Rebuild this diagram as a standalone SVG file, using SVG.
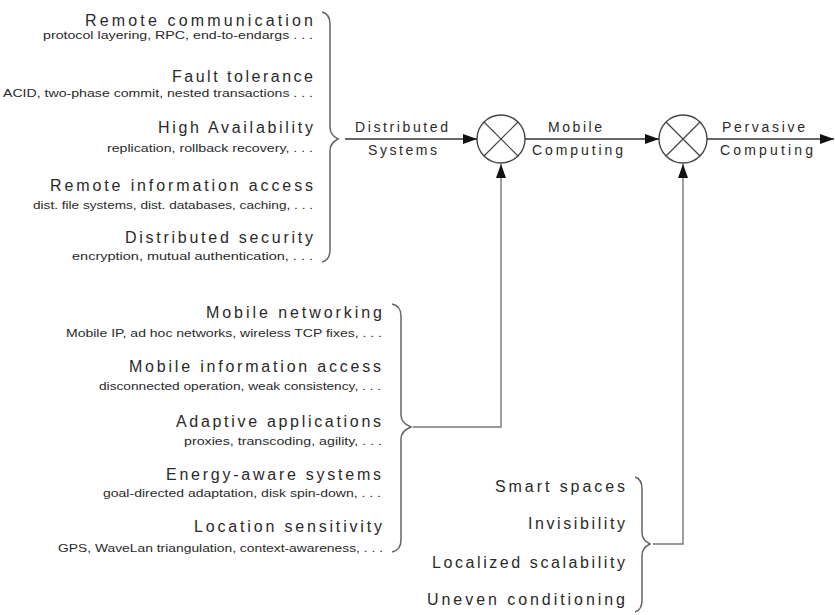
<svg xmlns="http://www.w3.org/2000/svg" width="835" height="615" viewBox="0 0 835 615">
<style>
  .t{font-family:"Liberation Sans","DejaVu Sans",sans-serif;font-size:16px;fill:#2a2a2a;text-anchor:end}
  .s{font-family:"Liberation Sans","DejaVu Sans",sans-serif;font-size:10.5px;fill:#2a2a2a;text-anchor:end}
  .a{font-family:"Liberation Sans","DejaVu Sans",sans-serif;font-size:14px;fill:#2a2a2a}
  .brace{fill:none;stroke:#666;stroke-width:1.5}
  .line{fill:none;stroke:#333;stroke-width:1.6}
  .feed{fill:none;stroke:#777;stroke-width:1.4}
  .node{fill:#fff;stroke:#444;stroke-width:1.4}
  .cross{stroke:#444;stroke-width:1.2}
</style>
<defs>
  <marker id="arr" viewBox="0 0 14 10" refX="14" refY="5" markerWidth="14" markerHeight="10" markerUnits="userSpaceOnUse" orient="auto">
    <path d="M0,0 L14,5 L0,10 Z" fill="#111"/>
  </marker>
</defs>

<rect width="835" height="615" fill="#fff"/>

<g id="distributed-topics">
  <text class="t" x="313" y="26" textLength="228" lengthAdjust="spacing">Remote communication</text>
  <text class="s" x="313" y="39" textLength="270" lengthAdjust="spacingAndGlyphs">protocol layering, RPC, end-to-endargs . . .</text>
  <text class="t" x="313" y="82" textLength="141" lengthAdjust="spacing">Fault tolerance</text>
  <text class="s" x="313" y="97" textLength="310" lengthAdjust="spacingAndGlyphs">ACID, two-phase commit, nested transactions . . .</text>
  <text class="t" x="313" y="133" textLength="155" lengthAdjust="spacing">High Availability</text>
  <text class="s" x="313" y="152" textLength="206" lengthAdjust="spacingAndGlyphs">replication, rollback recovery, . . .</text>
  <text class="t" x="313" y="191" textLength="263" lengthAdjust="spacing">Remote information access</text>
  <text class="s" x="313" y="209" textLength="280" lengthAdjust="spacingAndGlyphs">dist. file systems, dist. databases, caching, . . .</text>
  <text class="t" x="313" y="243" textLength="188" lengthAdjust="spacing">Distributed security</text>
  <text class="s" x="313" y="260" textLength="241" lengthAdjust="spacingAndGlyphs">encryption, mutual authentication, . . .</text>
  <path class="brace" d="M322,12 Q330,14 330,24 L330,127 Q330,135 338,139 Q330,143 330,151 L330,250 Q330,260 322,262"/>
</g>

<g id="mobile-topics">
  <text class="t" x="382" y="318" textLength="176" lengthAdjust="spacing">Mobile networking</text>
  <text class="s" x="382" y="337" textLength="316" lengthAdjust="spacingAndGlyphs">Mobile IP, ad hoc networks, wireless TCP fixes, . . .</text>
  <text class="t" x="381" y="372" textLength="252" lengthAdjust="spacing">Mobile information access</text>
  <text class="s" x="381" y="390" textLength="282" lengthAdjust="spacingAndGlyphs">disconnected operation, weak consistency, . . .</text>
  <text class="t" x="381" y="427" textLength="205" lengthAdjust="spacing">Adaptive applications</text>
  <text class="s" x="382" y="445" textLength="198" lengthAdjust="spacingAndGlyphs">proxies, transcoding, agility, . . .</text>
  <text class="t" x="381" y="480" textLength="215" lengthAdjust="spacing">Energy-aware systems</text>
  <text class="s" x="381" y="497" textLength="278" lengthAdjust="spacingAndGlyphs">goal-directed adaptation, disk spin-down, . . .</text>
  <text class="t" x="382" y="532" textLength="188" lengthAdjust="spacing">Location sensitivity</text>
  <text class="s" x="383" y="552" textLength="325" lengthAdjust="spacingAndGlyphs">GPS, WaveLan triangulation, context-awareness, . . .</text>
  <path class="brace" d="M392,304 Q401,306 401,316 L401,415 Q401,423 411,427 Q401,431 401,439 L401,540 Q401,550 392,552"/>
</g>

<g id="pervasive-topics">
  <text class="t" x="625" y="492" textLength="130" lengthAdjust="spacing">Smart spaces</text>
  <text class="t" x="625" y="529" textLength="97" lengthAdjust="spacing">Invisibility</text>
  <text class="t" x="625" y="568" textLength="193" lengthAdjust="spacing">Localized scalability</text>
  <text class="t" x="625" y="605" textLength="198" lengthAdjust="spacing">Uneven conditioning</text>
  <path class="brace" d="M635,477 Q642,479 642,489 L642,533 Q642,540 650,544 Q642,548 642,555 L642,600 Q642,610 635,612"/>
</g>

<g id="combiner-1">
  <circle class="node" cx="501" cy="139" r="24"/>
  <line class="cross" x1="484" y1="122" x2="518" y2="156"/>
  <line class="cross" x1="518" y1="122" x2="484" y2="156"/>
</g>

<g id="combiner-2">
  <circle class="node" cx="683" cy="139" r="24"/>
  <line class="cross" x1="666" y1="122" x2="700" y2="156"/>
  <line class="cross" x1="700" y1="122" x2="666" y2="156"/>
</g>

<g id="connectors">
  <line class="line" x1="345" y1="139" x2="477" y2="139" marker-end="url(#arr)"/>
  <line class="line" x1="525" y1="139" x2="659" y2="139" marker-end="url(#arr)"/>
  <line class="line" x1="707" y1="139" x2="834" y2="139" marker-end="url(#arr)"/>
  <polyline class="feed" points="413,427 501,427 501,164" marker-end="url(#arr)"/>
  <polyline class="feed" points="653,544 683,544 683,164" marker-end="url(#arr)"/>
  <text class="a" x="355" y="132" textLength="93" lengthAdjust="spacing">Distributed</text>
  <text class="a" x="368" y="155" textLength="69" lengthAdjust="spacing">Systems</text>
  <text class="a" x="548" y="132" textLength="54" lengthAdjust="spacing">Mobile</text>
  <text class="a" x="532" y="155" textLength="91" lengthAdjust="spacing">Computing</text>
  <text class="a" x="722" y="132" textLength="83" lengthAdjust="spacing">Pervasive</text>
  <text class="a" x="720" y="155" textLength="93" lengthAdjust="spacing">Computing</text>
</g>
</svg>
